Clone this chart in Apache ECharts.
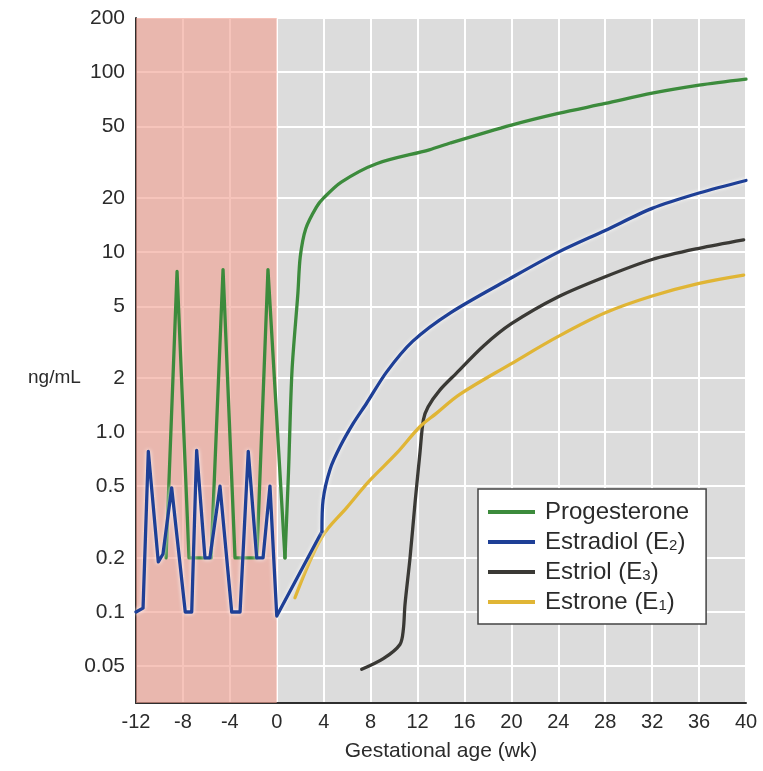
<!DOCTYPE html>
<html>
<head>
<meta charset="utf-8">
<script src="https://cdn.jsdelivr.net/npm/echarts@6/dist/echarts.min.js"></script>
<style>
  html, body { margin: 0; padding: 0; background: #ffffff; }
  #chart { width: 763px; height: 771px; }
</style>
</head>
<body>
<div id="chart"></div>
<script>
// ---- data (ng/mL vs gestational age in weeks) ----
const xTickValues = [-12, -8, -4, 0, 4, 8, 12, 16, 20, 24, 28, 32, 36, 40];
const yTickValues = [200, 100, 50, 20, 10, 5, 2, 1, 0.5, 0.2, 0.1, 0.05];
const yTickLabels = ['200', '100', '50', '20', '10', '5', '2', '1.0', '0.5', '0.2', '0.1', '0.05'];

const seriesNames = ['Progesterone', 'Estradiol (E2)', 'Estriol (E3)', 'Estrone (E1)'];

// menstrual cycles (before conception) and pregnancy parts
const progCycleWeeks  = [-9.44, -8.5, -7.48, -5.6, -4.58, -3.56, -1.7, -0.75, 0.7];
const progCycleValues = [0.2, 7.8, 0.2, 0.2, 8.0, 0.2, 0.2, 8.0, 0.2];
const progPregWeeks   = [0.7, 1.0, 1.3, 1.8, 2.0, 2.47, 3.38, 4.0, 5.5, 8.5, 13.0, 14.8, 20, 24, 28, 32, 36, 40];
const progPregValues  = [0.2, 0.6, 2.2, 5.9, 9.4, 13.5, 17.8, 20, 24.5, 31, 37, 40.4, 50.8, 59, 67, 76.5, 84.7, 91.5];

const estradiolCycleWeeks  = [-12, -11.4, -10.95, -10.1, -9.7, -8.96, -7.8, -7.25, -6.83, -6.12, -5.7, -4.84, -3.84, -3.13, -2.43, -1.71, -1.17, -0.58, 0.0, 3.85];
const estradiolCycleValues = [0.1, 0.105, 0.78, 0.19, 0.21, 0.49, 0.1, 0.1, 0.79, 0.2, 0.2, 0.5, 0.1, 0.1, 0.78, 0.2, 0.2, 0.5, 0.095, 0.28];
const estradiolPregWeeks   = [3.85, 3.95, 4.54, 5.4, 6.53, 7.67, 9.37, 11.6, 14.8, 20, 24, 28, 32, 36, 40];
const estradiolPregValues  = [0.28, 0.42, 0.62, 0.83, 1.12, 1.45, 2.16, 3.2, 4.6, 7.2, 10, 13.2, 17.5, 21.3, 25];

const estriolWeeks  = [7.24, 9.08, 10.5, 10.79, 10.93, 11.36, 11.78, 12.2, 12.5, 12.9, 13.9, 15.3, 17.6, 20, 24, 28, 32, 36, 39.8];
const estriolValues = [0.048, 0.055, 0.066, 0.08, 0.11, 0.2, 0.4, 0.76, 1.17, 1.38, 1.71, 2.12, 3.0, 4.0, 5.65, 7.3, 9.1, 10.5, 11.7];

const estroneWeeks  = [1.55, 3.83, 5.96, 7.95, 10.2, 12.2, 13.6, 15.6, 20, 24, 28, 32, 36, 39.8];
const estroneValues = [0.12, 0.26, 0.38, 0.54, 0.76, 1.07, 1.27, 1.62, 2.4, 3.4, 4.6, 5.7, 6.7, 7.45];

const prePregnancyRange = [-12, 0];
const yRange = [0.0312, 200];

// ---- build ----
const FONT = "'Liberation Sans', Arial, Helvetica, sans-serif";
const TXT = '#2b2b2b';
const lg = v => Math.log10(v);
const pairs = (xs, ys) => xs.map((x, i) => [x, lg(ys[i])]);

const colors = { 'Progesterone': '#3c8b3c', 'Estradiol (E2)': '#1e3f96', 'Estriol (E3)': '#3a3935', 'Estrone (E1)': '#e0b535' };

function lineSeries(name, data, smooth, extra) {
  return {
    name: name,
    type: 'line',
    data: data,
    showSymbol: false,
    symbol: 'none',
    smooth: smooth,
    z: name === 'Estradiol (E2)' ? 4 : 3,
    lineStyle: Object.assign({ color: colors[name], width: 3.3, cap: 'round', join: 'round' }, extra || {}),
    itemStyle: { color: colors[name] },
    emphasis: { disabled: true }
  };
}
const halo = { shadowColor: 'rgba(255,255,255,0.95)', shadowBlur: 4 };

const chart = echarts.init(document.getElementById('chart'), null, { renderer: 'canvas' });

const option = {
  animation: false,
  backgroundColor: '#ffffff',
  grid: { left: 136, right: 17, top: 18, bottom: 68, show: true, backgroundColor: '#dcdcdc', borderWidth: 0 },
  xAxis: {
    type: 'value', min: -12, max: 40, interval: 4,
    name: 'Gestational age (wk)', nameLocation: 'middle', nameGap: 38,
    nameTextStyle: { fontFamily: FONT, fontSize: 21, color: TXT },
    axisLine: { show: true, onZero: false, lineStyle: { color: '#2e2e2e', width: 2 } },
    axisTick: { show: false },
    axisLabel: { fontFamily: FONT, fontSize: 20, color: TXT, margin: 9, showMinLabel: true, showMaxLabel: true },
    splitLine: { show: true, lineStyle: { color: '#ffffff', width: 2 } }
  },
  yAxis: {
    type: 'value', min: lg(yRange[0]), max: lg(yRange[1]),
    axisLine: { show: true, onZero: false, lineStyle: { color: '#2e2e2e', width: 2 } },
    axisTick: { show: false, customValues: yTickValues.map(lg) },
    axisLabel: {
      fontFamily: FONT, fontSize: 21, color: TXT, margin: 11,
      customValues: yTickValues.map(lg),
      formatter: function (v) {
        for (let i = 0; i < yTickValues.length; i++) {
          if (Math.abs(lg(yTickValues[i]) - v) < 1e-6) return yTickLabels[i];
        }
        return '';
      }
    },
    splitLine: { show: true, lineStyle: { color: '#ffffff', width: 2 } }
  },
  legend: {
    data: seriesNames,
    orient: 'vertical',
    left: 478, top: 489,
    backgroundColor: '#ffffff',
    borderColor: '#444444', borderWidth: 1.5, borderRadius: 0,
    padding: [11, 17, 10, 10],
    itemGap: 6,
    itemWidth: 47, itemHeight: 4,
    icon: 'rect',
    selectedMode: false,
    formatter: function (name) { return name.replace(/E(\d)\)/, 'E{s|$1})'); },
    textStyle: {
      fontFamily: FONT, fontSize: 24, color: TXT, lineHeight: 24, padding: [0, 0, 0, 5],
      rich: { s: { fontFamily: FONT, fontSize: 15, color: TXT, lineHeight: 15, padding: [8, 0, 0, 0] } }
    }
  },
  graphic: [{
    type: 'text', left: 28, top: 368,
    style: { text: 'ng/mL', fontFamily: FONT, fontSize: 19, fill: TXT }
  }],
  series: [
    {
      name: 'pre-pregnancy',
      type: 'line',
      data: [],
      z: 1,
      silent: true,
      markArea: {
        silent: true,
        itemStyle: { color: 'rgba(240,160,145,0.62)' },
        data: [[{ xAxis: prePregnancyRange[0] }, { xAxis: prePregnancyRange[1] }]]
      }
    },
    lineSeries('Progesterone', pairs(progCycleWeeks, progCycleValues), false),
    lineSeries('Progesterone', pairs(progPregWeeks, progPregValues), 0.3),
    lineSeries('Estradiol (E2)', pairs(estradiolCycleWeeks, estradiolCycleValues), false, halo),
    lineSeries('Estradiol (E2)', pairs(estradiolPregWeeks, estradiolPregValues), 0.3, halo),
    lineSeries('Estriol (E3)', pairs(estriolWeeks, estriolValues), 0.3),
    lineSeries('Estrone (E1)', pairs(estroneWeeks, estroneValues), 0.35)
  ]
};

chart.setOption(option);
</script>
</body>
</html>
